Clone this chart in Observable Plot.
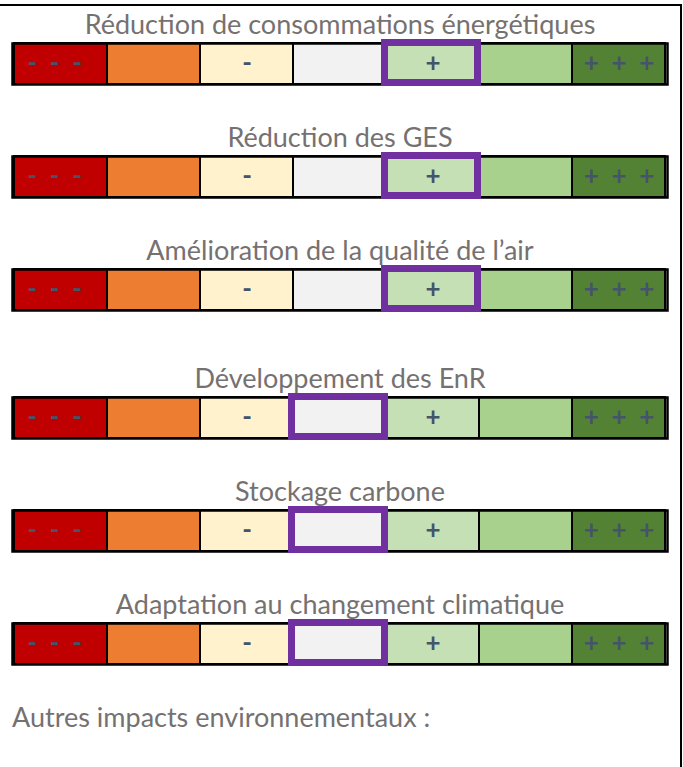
<!DOCTYPE html>
<html>
<head>
<meta charset="utf-8">
<script src="https://cdn.jsdelivr.net/npm/d3@7"></script>
<script src="https://cdn.jsdelivr.net/npm/@observablehq/plot@0.6"></script>
<style>
  html, body { margin: 0; padding: 0; background: #fff; }
  #page { position: relative; width: 683px; height: 767px; overflow: hidden; font-family: Lato, sans-serif; }
  #border { position: absolute; top: 4px; left: 0; width: 680px; height: 770px; border-top: 2px solid #000; border-right: 2px solid #000; box-sizing: content-box; }
  #rows { position: absolute; top: 0; left: 0; width: 683px; }
  #rows svg { display: block; overflow: visible; }
  .row { margin-top: 25px; }
  .row:first-child { margin-top: 0; }
  .row.gap { margin-top: 40px; }
  #footer { margin-top: 33px; padding-left: 12px; font-size: 27px; color: #767171; line-height: 32px; }
</style>
</head>
<body>
<div id="page">
  <div id="border"></div>
  <div id="rows"></div>
</div>
<script>
// Scale levels, from very negative to very positive
const levels = ["---", "--", "-", "0", "+", "++", "+++"];
const levelSymbols = ["- - - ", "", "-", "", "+", "", "+ + +"];
const levelColors = ["#C00000", "#ED7D31", "#FFF2CC", "#F2F2F2", "#C5E0B4", "#A9D18E", "#548235"];

// Criteria and their assessed level
const criteria = [
  "Réduction de consommations énergétiques",
  "Réduction des GES",
  "Amélioration de la qualité de l’air",
  "Développement des EnR",
  "Stockage carbone",
  "Adaptation au changement climatique"
];
const assessed = ["+", "+", "+", "0", "0", "0"];
const footerLabel = "Autres impacts environnementaux :";

const rowsEl = document.getElementById("rows");
const cells = levels.map((l, j) => ({level: l, symbol: levelSymbols[j]}));

criteria.forEach((title, i) => {
  const plot = Plot.plot({
    width: 683,
    height: 88,
    marginTop: 43,
    marginBottom: 4,
    marginLeft: 12,
    marginRight: 16,
    x: {domain: levels, padding: 0, axis: null},
    color: {domain: levels, range: levelColors},
    style: {fontFamily: "Lato, sans-serif", background: "transparent"},
    marks: [
      Plot.cell(cells, {x: "level", fill: "level", stroke: "black", strokeWidth: 2, inset: 0}),
      Plot.frame({stroke: "black", strokeWidth: 2.5}),
      Plot.text(cells, {
        x: "level",
        text: d => d.symbol.replace(/ /g, "\u00a0\u00a0"),
        fill: "#44546A",
        fontSize: 26,
        fontWeight: "bold",
        frameAnchor: "middle"
      }),
      Plot.cell([assessed[i]], {
        x: d => d,
        fill: "none",
        stroke: "#7030A0",
        strokeWidth: 7,
        insetLeft: -1.5,
        insetRight: 1.5,
        insetTop: -0.5,
        insetBottom: 1.5
      }),
      Plot.text([title], {
        frameAnchor: "top",
        lineAnchor: "bottom",
        dy: -10,
        fill: "#767171",
        fontSize: 27
      })
    ]
  });
  const wrap = document.createElement("div");
  wrap.className = "row" + (i === 3 ? " gap" : "");
  wrap.appendChild(plot);
  rowsEl.appendChild(wrap);
});

const footer = document.createElement("div");
footer.id = "footer";
footer.textContent = footerLabel;
rowsEl.appendChild(footer);
</script>
</body>
</html>
